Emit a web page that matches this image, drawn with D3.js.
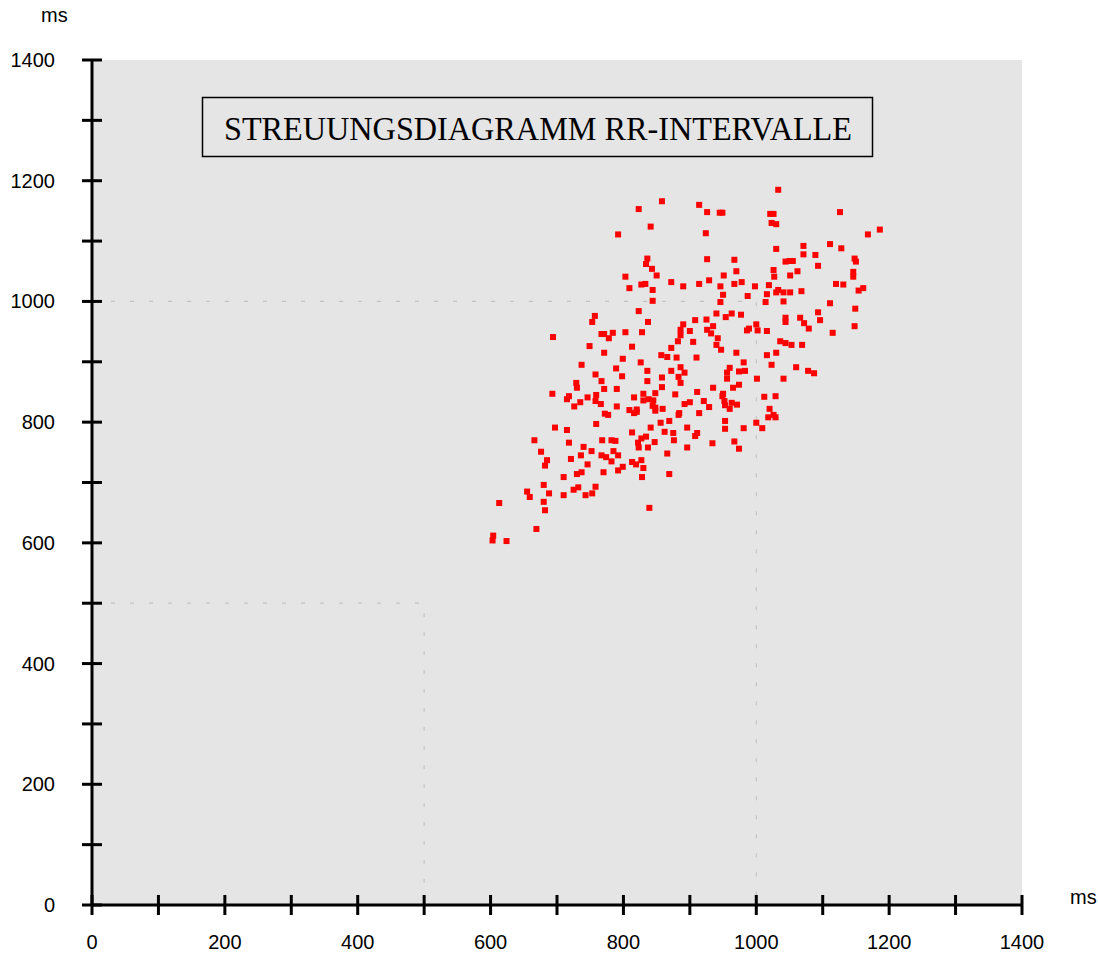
<!DOCTYPE html>
<html>
<head>
<meta charset="utf-8">
<script src="https://cdn.jsdelivr.net/npm/d3@7"></script>
<style>
  body { margin: 0; background: #fff; }
</style>
</head>
<body>
<div class="rrScatter"></div>
<script>
// RR interval pairs (ms): rrN on x, rrNext on y
const rrN = [858,914,823,841,792,836,834,843,850,803,872,827,833,890,809,844,914,844,823,757,
  753,837,908,694,767,771,784,778,803,828,890,886,886,900,882,905,749,813,872,771,
  857,866,880,910,799,826,737,789,886,836,872,892,758,798,858,883,729,767,836,886,
  730,771,790,858,693,718,715,735,746,759,758,766,726,790,816,830,830,838,845,848,
  878,911,900,892,844,848,848,859,809,820,820,816,772,777,884,883,914,869,856,759,
  697,715,841,862,875,896,911,908,813,827,834,666,718,768,782,788,822,823,837,847,
  876,896,740,752,785,676,736,767,774,792,721,685,682,782,746,813,819,827,866,830,
  799,792,770,737,730,710,828,869,680,758,732,725,655,659,688,710,743,753,680,613,
  682,839,669,604,603,624,1033,926,945,949,1021,1026,1126,1023,1030,924,1186,1168,1111,1128,
  1030,1071,1071,1089,926,967,1044,1050,1055,1148,1150,1093,970,1026,1062,1146,951,1027,1051,1146,
  929,967,978,946,998,1019,1120,1131,1161,1154,1033,1030,1041,1051,1068,950,987,1016,946,1014,
  1041,1111,1149,940,963,954,977,925,1044,1044,1066,1093,1096,1072,1000,935,1148,926,932,986,
  989,1002,1016,1079,1115,942,940,947,1036,1044,1053,1069,970,1016,1030,981,1023,960,1060,983,
  974,1078,956,1087,1001,1041,956,935,965,974,950,949,921,929,952,953,963,971,960,1012,
  1029,1020,1026,1018,1029,953,953,981,1000,1009,934,967,974];
const rrNext = [1166,1160,1153,1124,1111,1071,1062,1054,1043,1041,1032,1028,1029,1025,1022,1019,1029,1001,984,976,
  966,966,969,941,946,946,948,939,949,949,962,953,944,951,934,933,926,925,923,915,
  911,908,907,907,905,899,895,889,891,885,885,882,879,876,874,875,865,868,868,865,
  857,855,855,858,847,843,838,833,841,845,835,830,826,826,841,847,836,838,836,848,
  846,850,833,830,827,824,819,822,820,821,817,815,814,812,815,812,815,802,799,797,
  791,787,791,784,782,791,782,777,783,773,776,770,766,770,770,769,766,758,758,767,
  770,758,759,752,752,751,745,745,742,745,739,737,728,735,730,734,730,737,748,724,
  726,720,717,717,714,709,709,714,696,693,692,688,685,676,682,679,679,682,668,666,
  654,658,623,612,604,603,1185,1148,1147,1147,1145,1145,1148,1130,1128,1113,1119,1111,1095,1088,
  1087,1092,1078,1077,1070,1069,1066,1067,1067,1071,1066,1059,1050,1052,1050,1049,1043,1041,1043,1041,
  1035,1029,1032,1025,1025,1027,1029,1028,1022,1018,1019,1015,1015,1015,1017,1011,1009,1012,999,999,
  1000,997,988,980,980,974,978,970,973,966,973,982,969,964,962,959,959,953,947,952,
  955,952,951,955,948,939,928,920,934,931,928,928,915,911,915,899,895,890,891,885,
  884,885,882,881,872,872,872,857,857,862,847,843,835,825,835,828,832,829,822,842,
  843,822,812,808,808,802,789,790,799,790,765,768,756];

const xTicks = d3.range(0, 1401, 100);
const xLabels = d3.range(0, 1401, 200);
const yTicks = d3.range(0, 1401, 100);
const yLabels = d3.range(0, 1401, 200);
const boxLimits = [500, 1000];
const chartTitle = "STREUUNGSDIAGRAMM RR-INTERVALLE";
const unitLabel = "ms";

const width = 1098;
const height = 953;
const plot = { left: 92, right: 1022, top: 60, bottom: 905 };

const svg = d3.select(".rrScatter")
  .append("svg")
  .attr("width", width)
  .attr("height", height)
  .style("display", "block");

const x = d3.scaleLinear().domain([0, 1400]).range([plot.left, plot.right]);
const y = d3.scaleLinear().domain([0, 1400]).range([plot.bottom, plot.top]);

// Grey plot background
svg.append("rect")
  .attr("x", plot.left)
  .attr("y", plot.top)
  .attr("width", plot.right - plot.left)
  .attr("height", plot.bottom - plot.top)
  .attr("fill", "#e5e5e5");

// Dotted reference boxes at 500 and 1000 ms
boxLimits.forEach(v => {
  svg.append("path")
    .attr("d", `M${x(0)},${y(v)}H${x(v)}V${y(0)}`)
    .attr("fill", "none")
    .attr("stroke", "#c4c4c4")
    .attr("stroke-width", 1.2)
    .attr("stroke-dasharray", "4,15");
});

// Title box
const titleG = svg.append("g");
titleG.append("rect")
  .attr("x", 202.5)
  .attr("y", 97.5)
  .attr("width", 670)
  .attr("height", 59)
  .attr("fill", "none")
  .attr("stroke", "#000")
  .attr("stroke-width", 1.5);
titleG.append("text")
  .attr("x", 538)
  .attr("y", 140)
  .attr("text-anchor", "middle")
  .attr("textLength", 628)
  .attr("lengthAdjust", "spacingAndGlyphs")
  .style("font-family", "'Liberation Serif', 'Times New Roman', serif")
  .style("font-size", "34px")
  .text(chartTitle);

// Points
svg.append("g")
  .selectAll("rect")
  .data(rrN.map((d, i) => ({ a: d, b: rrNext[i] })))
  .join("rect")
  .attr("x", d => x(d.a) - 3)
  .attr("y", d => y(d.b) - 3)
  .attr("width", 6)
  .attr("height", 6)
  .attr("fill", "#ff0000");

// Axes
const axisG = svg.append("g")
  .attr("stroke", "#000")
  .attr("stroke-width", 3);
axisG.append("line")
  .attr("x1", x(0)).attr("x2", x(0))
  .attr("y1", y(1400)).attr("y2", y(0));
axisG.append("line")
  .attr("x1", x(0)).attr("x2", x(1400))
  .attr("y1", y(0)).attr("y2", y(0));
axisG.selectAll(".yt")
  .data(yTicks)
  .join("line")
  .attr("class", "yt")
  .attr("x1", x(0) - 10).attr("x2", x(0) + 10)
  .attr("y1", d => y(d)).attr("y2", d => y(d));
axisG.selectAll(".xt")
  .data(xTicks)
  .join("line")
  .attr("class", "xt")
  .attr("x1", d => x(d)).attr("x2", d => x(d))
  .attr("y1", y(0) - 10).attr("y2", y(0) + 10);

const labelFont = "Arial, 'Liberation Sans', Helvetica, sans-serif";

svg.append("g")
  .selectAll("text")
  .data(yLabels)
  .join("text")
  .attr("x", 55)
  .attr("y", d => y(d))
  .attr("dy", "0.35em")
  .attr("text-anchor", "end")
  .style("font-family", labelFont)
  .style("font-size", "20px")
  .text(d => d);

svg.append("g")
  .selectAll("text")
  .data(xLabels)
  .join("text")
  .attr("x", d => x(d))
  .attr("y", 949)
  .attr("text-anchor", "middle")
  .style("font-family", labelFont)
  .style("font-size", "20px")
  .text(d => d);

svg.append("text")
  .attr("x", 41)
  .attr("y", 22)
  .style("font-family", labelFont)
  .style("font-size", "20px")
  .text(unitLabel);

svg.append("text")
  .attr("x", 1070)
  .attr("y", 904)
  .style("font-family", labelFont)
  .style("font-size", "20px")
  .text(unitLabel);
</script>
</body>
</html>
